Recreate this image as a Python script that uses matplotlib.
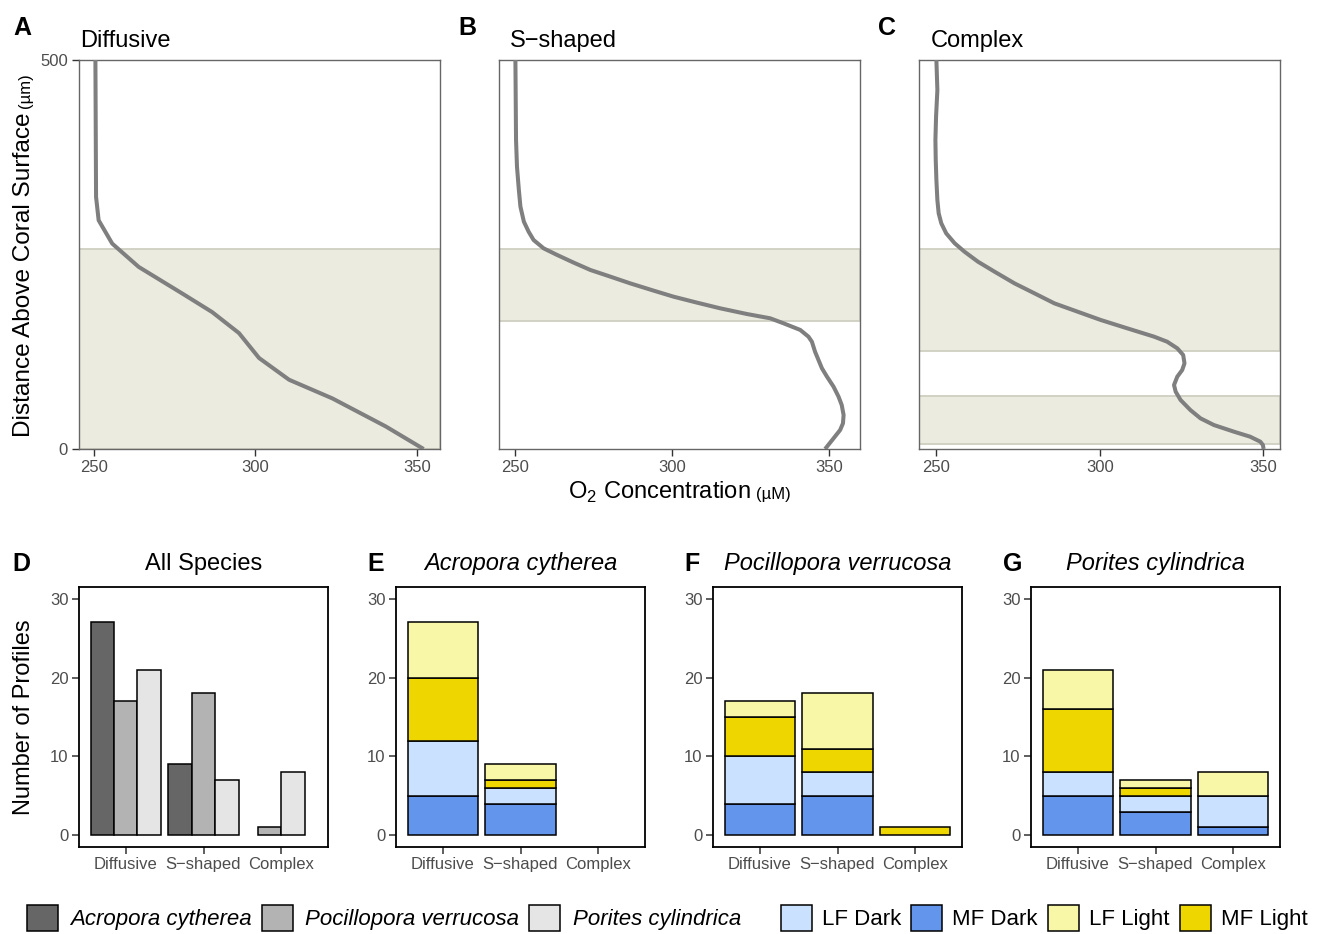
import matplotlib
matplotlib.use('Agg')
import matplotlib.pyplot as plt
from matplotlib.patches import Patch
import numpy as np

plt.rcParams['font.family'] = ['Liberation Sans', 'DejaVu Sans']
plt.rcParams['mathtext.fontset'] = 'custom'
plt.rcParams['mathtext.rm'] = 'Liberation Sans'

# ---------------- data ----------------
profile_types = ['Diffusive', 'S\u2212shaped', 'Complex']

# O2 profiles (O2 in uM, distance above surface in um)
diffusive_o2 = [250.5, 250.7, 251.5, 255.7, 263.9, 277.3, 286.6, 294.9, 301.1,
                310.4, 323.8, 340.3, 352.0]
diffusive_dist = [500, 324, 294, 264, 234, 200, 176, 149, 117, 89, 65, 29, 0]

sshaped_o2 = [250.0, 250.2, 250.5, 251.1, 251.6, 252.7, 254.2, 255.8, 259.0,
              263.3, 268.6, 273.9, 280.3, 286.6, 294.1, 300.4, 307.9, 315.3,
              323.8, 331.2, 335.5, 340.8, 343.4, 344.5, 345.5, 346.6, 347.7,
              349.3, 351.4, 353.0, 354.0, 354.6, 354.4, 353.5, 351.4, 348.7]
sshaped_dist = [500, 397.2, 362.9, 332.9, 311.5, 292.2, 279.4, 268.6, 257.9,
                249.4, 239.5, 230.1, 221.5, 212.9, 203.5, 195.8, 188.1, 180.8,
                173.5, 168.0, 161.5, 153.0, 144.4, 137.9, 125.1, 114.4, 103.7,
                93.0, 80.1, 67.2, 56.6, 43.7, 33.0, 24.4, 13.7, 0.0]

complex_o2 = [250.0, 250.3, 249.9, 249.7, 249.8, 250.0, 250.3, 250.7, 251.5,
              253.0, 255.6, 258.6, 262.7, 267.8, 273.9, 280.0, 286.1, 293.2,
              300.3, 308.4, 316.6, 320.6, 323.7, 325.5, 325.9, 325.2, 323.7,
              322.7, 323.2, 324.7, 327.7, 330.8, 334.9, 341.0, 346.0, 349.1,
              349.9, 350.1]
complex_dist = [500, 461.4, 427.2, 397.2, 371.5, 345.8, 320.1, 302.9, 290.1,
                277.2, 264.4, 253.6, 240.8, 227.9, 212.9, 200.1, 187.2, 176.5,
                165.8, 155.1, 144.4, 137.9, 129.4, 120.8, 110.1, 101.5, 93.0,
                82.3, 73.7, 63.0, 50.1, 39.4, 30.8, 22.3, 15.8, 9.4, 5.1, 0.0]

# shaded zones (lower, upper) in um
diffusive_zones = [(0, 257)]
sshaped_zones = [(164.5, 257)]
complex_zones = [(125.5, 257), (6.5, 68)]

species = ['Acropora cytherea', 'Pocillopora verrucosa', 'Porites cylindrica']
acropora_counts = [27, 9, 0]
pocillopora_counts = [17, 18, 1]
porites_counts = [21, 7, 8]

treatments_legend = ['LF Dark', 'MF Dark', 'LF Light', 'MF Light']
stack_order = ['MF Dark', 'LF Dark', 'MF Light', 'LF Light']

acropora_mf_dark = [5, 4, 0]
acropora_lf_dark = [7, 2, 0]
acropora_mf_light = [8, 1, 0]
acropora_lf_light = [7, 2, 0]

pocillopora_mf_dark = [4, 5, 0]
pocillopora_lf_dark = [6, 3, 0]
pocillopora_mf_light = [5, 3, 1]
pocillopora_lf_light = [2, 7, 0]

porites_mf_dark = [5, 3, 1]
porites_lf_dark = [3, 2, 4]
porites_mf_light = [8, 1, 0]
porites_lf_light = [5, 1, 3]

# ---------------- styles ----------------
species_colors = ['#666666', '#B3B3B3', '#E5E5E5']
treat_colors = {'LF Dark': '#CAE1FF', 'MF Dark': '#6495ED',
                'LF Light': '#F8F7A8', 'MF Light': '#EED600'}
zone_fill = '#EBEBDF'
zone_edge = '#CFCFC2'
line_col = '#7F7F7F'
tick_lab_col = '#4D4D4D'

W, H = 1320, 934
fig = plt.figure(figsize=(W / 100, H / 100), dpi=100)


def fx(x):
    return x / W


def fy(y):
    return 1 - y / H


# ---------------- top row: profiles ----------------
profiles = [(diffusive_o2, diffusive_dist, diffusive_zones),
            (sshaped_o2, sshaped_dist, sshaped_zones),
            (complex_o2, complex_dist, complex_zones)]
top_lefts = [79, 499, 919]
top_title_x = [80, 510, 931]
top_letters = ['A', 'B', 'C']
top_letter_x = [13, 458, 878]

for i, ((o2, dist, zones), left) in enumerate(zip(profiles, top_lefts)):
    ax = fig.add_axes([fx(left), fy(449), 361 / W, 389 / H])
    lo, hi = min(o2), max(o2)
    pad = 0.05 * (hi - lo)
    ax.set_xlim(lo - pad, hi + pad)
    ax.set_ylim(0, 500)
    for zlo, zhi in zones:
        ax.axhspan(zlo, zhi, facecolor=zone_fill, edgecolor=zone_edge,
                   lw=1.3, zorder=1)
    ax.plot(o2, dist, color=line_col, lw=2.9, zorder=3,
            solid_capstyle='butt', solid_joinstyle='round')
    ax.set_xticks([250, 300, 350])
    if i == 0:
        ax.set_yticks([0, 500])
    else:
        ax.set_yticks([])
    for s in ax.spines.values():
        s.set_color('#666666')
        s.set_linewidth(1.0)
    ax.tick_params(length=5, width=1, color='#333333', labelsize=12,
                   labelcolor=tick_lab_col, pad=3)
    fig.text(fx(top_title_x[i]), fy(47), profile_types[i], fontsize=17,
             ha='left', va='baseline')
    fig.text(fx(top_letter_x[i]), fy(35), top_letters[i], fontsize=18,
             fontweight='bold', ha='left', va='baseline')

renderer = fig.canvas.get_renderer()

# y label with small unit
t1 = fig.text(fx(30), fy(437), 'Distance Above Coral Surface', fontsize=17.6,
              rotation=90, rotation_mode='anchor', ha='left', va='baseline')
bb = t1.get_window_extent(renderer)
fig.text(fx(30), (bb.y1 + 4) / H, '(\u00b5m)', fontsize=12,
         rotation=90, rotation_mode='anchor', ha='left', va='baseline')

# x label with small unit
m1 = 'O$_\\mathregular{2}$ Concentration'
tmp1 = fig.text(0, 0, m1, fontsize=17)
tmp2 = fig.text(0, 0, '(\u00b5M)', fontsize=12)
w1 = tmp1.get_window_extent(renderer).width
w2 = tmp2.get_window_extent(renderer).width
tmp1.remove()
tmp2.remove()
gap = 6
cx = 679.5
start = cx - (w1 + gap + w2) / 2
fig.text(fx(start), fy(499), m1, fontsize=17, ha='left', va='baseline')
fig.text(fx(start + w1 + gap), fy(499), '(\u00b5M)', fontsize=12,
         ha='left', va='baseline')

# ---------------- bottom row: bar charts ----------------
bot_lefts = [79, 396, 713, 1031]
bot_letters = ['D', 'E', 'F', 'G']
bot_letter_x = [12, 367, 684, 1003]
bot_titles = ['All Species'] + species
xpos = np.arange(1, len(profile_types) + 1)

stack_data = [
    {'MF Dark': acropora_mf_dark, 'LF Dark': acropora_lf_dark,
     'MF Light': acropora_mf_light, 'LF Light': acropora_lf_light},
    {'MF Dark': pocillopora_mf_dark, 'LF Dark': pocillopora_lf_dark,
     'MF Light': pocillopora_mf_light, 'LF Light': pocillopora_lf_light},
    {'MF Dark': porites_mf_dark, 'LF Dark': porites_lf_dark,
     'MF Light': porites_mf_light, 'LF Light': porites_lf_light},
]
species_counts = [acropora_counts, pocillopora_counts, porites_counts]

axes_bot = []
for k, left in enumerate(bot_lefts):
    ax = fig.add_axes([fx(left), fy(847), 249 / W, 260 / H])
    axes_bot.append(ax)
    ax.set_xlim(0.4, 3.6)
    ax.set_ylim(-1.5, 31.5)
    ax.set_xticks(xpos)
    ax.set_xticklabels(profile_types)
    ax.set_yticks([0, 10, 20, 30])
    for s in ax.spines.values():
        s.set_color('black')
        s.set_linewidth(1.3)
    ax.tick_params(length=5, width=1.1, color='#333333', labelsize=12,
                   labelcolor=tick_lab_col, pad=2.5)
    cx_ax = left + 249 / 2
    fig.text(fx(cx_ax), fy(570), bot_titles[k], fontsize=17, ha='center',
             va='baseline', style='normal' if k == 0 else 'italic')
    fig.text(fx(bot_letter_x[k]), fy(571), bot_letters[k], fontsize=18,
             fontweight='bold', ha='left', va='baseline')

# D: dodged bars (preserve single width)
axD = axes_bot[0]
bw = 0.9 / len(species)
for j, cat_x in enumerate(xpos):
    present = [s for s in range(len(species)) if species_counts[s][j] > 0]
    n = len(present)
    for m, s in enumerate(present):
        xc = cat_x + (m - (n - 1) / 2) * bw
        axD.bar(xc, species_counts[s][j], width=bw, color=species_colors[s],
                edgecolor='black', linewidth=1.1, zorder=2)

# E-G: stacked bars
for k in range(3):
    ax = axes_bot[k + 1]
    bottom = np.zeros(len(profile_types))
    for t in stack_order:
        vals = np.array(stack_data[k][t], dtype=float)
        for j in range(len(profile_types)):
            if vals[j] > 0:
                ax.bar(xpos[j], vals[j], bottom=bottom[j], width=0.9,
                       color=treat_colors[t], edgecolor='black',
                       linewidth=1.1, zorder=2)
        bottom += vals

fig.text(fx(30), fy(717), 'Number of Profiles', fontsize=17, rotation=90,
         rotation_mode='anchor', ha='center', va='baseline')

# ---------------- legends ----------------
sp_handles = [Patch(facecolor=c, edgecolor='black', linewidth=1.1, label=s)
              for s, c in zip(species, species_colors)]
tr_handles = [Patch(facecolor=treat_colors[t], edgecolor='black',
                    linewidth=1.1, label=t) for t in treatments_legend]

fig.legend(handles=sp_handles, loc='center left',
           bbox_to_anchor=(fx(27), fy(918)), ncol=3, frameon=False,
           prop={'style': 'italic', 'size': 16}, handlelength=1.4,
           handleheight=1.4, handletextpad=0.55, columnspacing=0.45,
           borderpad=0, borderaxespad=0)
fig.legend(handles=tr_handles, loc='center left',
           bbox_to_anchor=(fx(781), fy(918)), ncol=4, frameon=False,
           prop={'size': 16}, handlelength=1.4,
           handleheight=1.4, handletextpad=0.45, columnspacing=0.45,
           borderpad=0, borderaxespad=0)

fig.savefig('out.png', dpi=100)
